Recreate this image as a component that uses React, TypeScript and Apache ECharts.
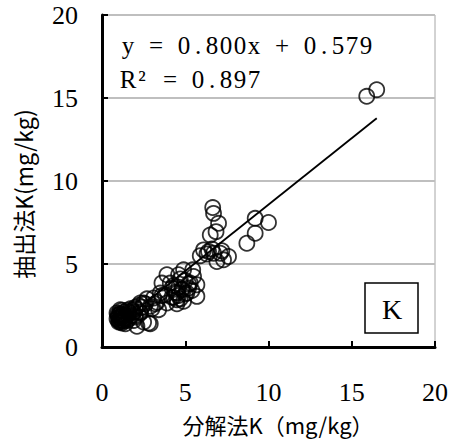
import React, { useEffect, useRef } from "react";
import * as echarts from "echarts";

const xTicks = [0, 5, 10, 15, 20];
const slope = 0.8;
const intercept = 0.579;
const r2 = 0.897;
const trendRange = [0.9, 16.5];

const decompK = [
  15.9, 16.5,
  9.2, 10.0, 9.2, 8.7,
  6.65, 6.7, 7.0, 6.85, 6.5,
  6.1, 6.4, 6.7, 7.1, 7.3, 7.6, 6.9, 6.3, 5.9, 6.6, 7.2,
  5.45, 4.9, 4.6, 3.9, 3.6, 5.5, 5.3, 5.7, 5.1, 5.7, 4.5, 3.9, 3.1, 2.5, 2.9, 3.4, 2.3, 2.8, 2.1,
  4.8, 4.2, 4.5, 4.1, 4.9, 3.8, 3.5, 5.2, 2.3, 2.7, 3.3, 4.3, 4.6, 3.0, 2.0,
  4.2, 4.4, 4.6, 4.8, 5.0, 5.2, 4.5, 4.7, 5.4, 5.0, 4.3, 4.7, 3.6, 3.2,
  1.6, 1.8, 2.0, 2.2, 2.4, 2.6, 2.0, 2.3, 1.9, 2.5, 2.9,
  1.0, 1.1, 1.2, 1.3, 1.4, 1.5, 1.1, 1.3, 1.6, 1.7, 1.8, 1.2, 1.5, 1.0, 1.4, 1.9, 2.0, 1.6,
  0.9, 1.0, 1.1, 1.2, 1.3, 0.9, 1.0, 1.2, 1.4, 1.1, 0.95, 1.25, 1.35, 1.05, 1.15,
];
const extractK = [
  15.1, 15.5,
  7.75, 7.5, 6.85, 6.25,
  8.4, 8.05, 7.45, 6.95, 6.75,
  5.85, 5.75, 5.65, 5.65, 5.25, 5.45, 5.15, 5.6, 5.5, 5.9, 5.8,
  4.65, 4.65, 4.35, 4.35, 3.85, 4.25, 3.85, 3.75, 3.25, 3.05, 2.85, 2.65, 2.95, 2.65, 2.45, 2.25, 2.05, 1.45, 1.25,
  3.45, 3.55, 3.25, 3.85, 2.75, 3.15, 3.25, 3.55, 2.65, 2.9, 2.7, 3.0, 3.6, 2.3, 2.4,
  3.0, 3.3, 3.1, 3.5, 3.2, 3.8, 2.6, 2.9, 3.4, 4.0, 3.7, 4.1, 3.1, 2.6,
  2.1, 2.2, 2.3, 2.5, 2.4, 2.6, 1.9, 2.1, 1.6, 1.5, 1.4,
  1.8, 2.0, 1.6, 2.1, 1.9, 2.2, 1.5, 1.7, 2.0, 2.3, 1.9, 2.2, 1.6, 1.6, 1.4, 2.1, 1.8, 1.7,
  1.7, 1.9, 1.75, 1.85, 1.55, 2.05, 1.5, 1.45, 1.65, 2.25, 1.95, 1.95, 1.75, 1.65, 1.85,
];

const points = decompK.map((x, i) => [x, extractK[i]]);
const trendLine = trendRange.map((x) => [x, slope * x + intercept]);

const eqText = `y = ${slope.toFixed(3)}x + ${intercept.toFixed(3)}`;
const r2Text = `R² = ${r2.toFixed(3)}`;

function monoText(text: string, x0: number, y: number, step: number, font: string) {
  return text.split("").map((ch, i) => ({
    type: "text",
    x: x0 + step * i + step / 2,
    y,
    silent: true,
    style: { text: ch, font, fill: "#000", align: "center", verticalAlign: "middle" },
  }));
}

export default function App() {
  const ref = useRef<HTMLDivElement>(null);
  useEffect(() => {
    if (!ref.current) return;
    const chart = echarts.init(ref.current, null, { renderer: "svg" });
    const serif = "'Liberation Serif', 'DejaVu Serif', serif";
    const eqFont = "25px 'Liberation Serif', serif";
    chart.setOption({
      animation: false,
      backgroundColor: "#ffffff",
      grid: {
        left: 102,
        top: 15,
        right: 19,
        bottom: 96,
        show: true,
        borderColor: "#a6a6a6",
        borderWidth: 1,
      },
      xAxis: {
        type: "value",
        min: xTicks[0],
        max: xTicks[xTicks.length - 1],
        interval: 5,
        axisLine: { show: true, onZero: false, lineStyle: { color: "#000", width: 3 } },
        axisTick: { show: true, inside: true, length: 6, lineStyle: { color: "#000", width: 2 } },
        axisLabel: { color: "#000", fontSize: 26, fontFamily: serif, margin: 32 },
        splitLine: { show: false },
      },
      yAxis: {
        type: "value",
        min: xTicks[0],
        max: xTicks[xTicks.length - 1],
        interval: 5,
        axisLine: { show: true, onZero: false, lineStyle: { color: "#000", width: 3 } },
        axisTick: { show: true, inside: true, length: 6, lineStyle: { color: "#000", width: 2 } },
        axisLabel: { color: "#000", fontSize: 26, fontFamily: serif, margin: 24 },
        splitLine: { show: true, lineStyle: { color: "#bfbfbf", width: 2 } },
      },
      series: [
        {
          type: "scatter",
          data: points,
          symbol: "circle",
          symbolSize: 15,
          itemStyle: { color: "transparent", borderColor: "#000", borderWidth: 1.8 },
          z: 3,
        },
        {
          type: "line",
          data: trendLine,
          showSymbol: false,
          symbol: "none",
          lineStyle: { color: "#000", width: 1.8 },
          z: 4,
        },
      ],
      graphic: [
        ...monoText(eqText, 121, 45, 14, eqFont),
        ...monoText(r2Text, 121, 79, 14, eqFont),
        {
          type: "rect",
          shape: { x: 365, y: 283, width: 53, height: 50 },
          style: { fill: "#fff", stroke: "#000", lineWidth: 1.5 },
        },
        {
          type: "text",
          x: 392,
          y: 309,
          style: {
            text: "K",
            font: "28px 'Liberation Serif', serif",
            fill: "#000",
            align: "center",
            verticalAlign: "middle",
          },
        },
        {
          type: "text",
          x: 278,
          y: 424,
          style: {
            text: "分解法K（mg/kg）",
            font: "22px 'Noto Sans CJK JP', sans-serif",
            fill: "#000",
            align: "center",
            verticalAlign: "middle",
          },
        },
        {
          type: "text",
          x: 23,
          y: 194,
          rotation: Math.PI / 2,
          style: {
            text: "抽出法K(mg/kg)",
            font: "23px 'Noto Sans CJK JP', sans-serif",
            fill: "#000",
            align: "center",
            verticalAlign: "middle",
          },
        },
      ],
    });
    return () => chart.dispose();
  }, []);
  return <div ref={ref} style={{ width: 454, height: 443, position: "absolute", left: 0, top: 0 }} />;
}
